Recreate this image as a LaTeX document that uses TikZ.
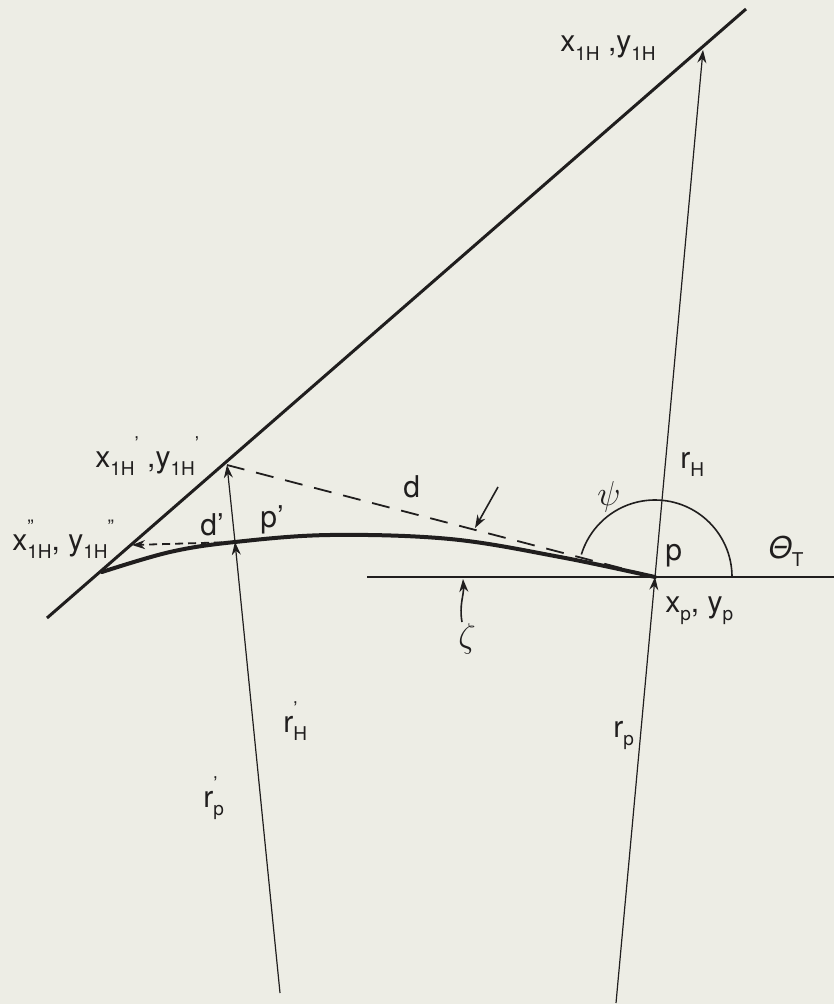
\documentclass[tikz,border=0pt]{standalone}
\usepackage{fontspec}
\setmainfont{TeX Gyre Heros}
\usetikzlibrary{arrows.meta}
\definecolor{bg}{RGB}{237,237,229}
\definecolor{ink}{RGB}{32,30,30}
\newcommand{\dn}[1]{\raisebox{-0.55ex}{\fontsize{9.5}{10}\selectfont #1}}
\newcommand{\up}[1]{\raisebox{1.05ex}{\fontsize{9.5}{10}\selectfont #1}}
\begin{document}
\begin{tikzpicture}[x=0.5pt,y=-0.5pt,
  lbl/.style={inner sep=0pt,anchor=base west,text=ink,font=\fontsize{15}{17}\selectfont},
  greek/.style={inner sep=0pt,anchor=center,text=ink,font=\fontsize{19}{21}\selectfont},
  thinline/.style={draw=ink,line width=0.6pt},
  thickline/.style={draw=ink,line width=1.5pt},
  tip/.style={-{Stealth[length=6.5pt,width=4.5pt]}},
  dashd/.style={draw=ink,line width=0.9pt,dash pattern=on 9pt off 6pt},
  dashs/.style={draw=ink,line width=0.9pt,dash pattern=on 4pt off 2.5pt}]
\fill[bg] (0,0) rectangle (834,1004);
\useasboundingbox (0,0) rectangle (834,1004);
% key points
\coordinate (D0) at (47,618);
\coordinate (D1) at (746,9);
\coordinate (X1H) at (703,50);
\coordinate (X1Hp) at (227,465);
\coordinate (X1Hpp) at (132,545);
\coordinate (P) at (655,577);
\coordinate (Pp) at (235,542);
\coordinate (RPb) at (616,1003);
\coordinate (RPpb) at (280,993);
\coordinate (H0) at (367,577);
\coordinate (H1) at (834,577);
\coordinate (Da) at (498,487);
\coordinate (Db) at (475,528);
\coordinate (Za) at (462,622);
\coordinate (Zb) at (463,579);
% diagonal line
\draw[thickline] (D0) -- (D1);
% horizontal line
\draw[thinline,line width=1pt] (H0) -- (H1);
% r_p and r_H
\draw[thinline,tip] (RPb) -- (P);
\draw[thinline,tip] (P) -- (X1H);
% r'_p and r'_H
\draw[thinline,tip] (RPpb) -- (Pp);
\draw[thinline,tip] (Pp) -- (X1Hp);
% curve
\draw[ink,line width=2pt,line cap=round] plot[smooth,tension=0.6] coordinates
  {(102,572) (170,552) (235,542) (330,535) (450,539) (560,557) (655,577)};
% dashed d and d'
\draw[dashd] (X1Hp) -- (P);
\draw[dashs,tip] (Pp) -- (X1Hpp);
% psi arc
\draw[thinline,line width=0.8pt] (P) ++(77,0) arc[start angle=0,end angle=-163,radius=77];
% pointer arrows
\draw[thinline,line width=0.8pt,tip] (Da) -- (Db);
\draw[thinline,line width=0.8pt,tip] (Za) .. controls (459,605) and (464,595) .. (Zb);
% labels
\node[lbl] (lx1h) at (560,52) {x\dn{1H} ,y\dn{1H}};
\node[lbl] (lx1hp) at (95,467) {x\dn{1H}\up{'} ,y\dn{1H}\up{'}};
\node[lbl] (lx1hpp) at (12,550) {x\rlap{\up{''}}\dn{1H}, y\dn{1H}\up{''}};
\node[lbl] (ld) at (403,497) {d};
\node[lbl] (ldp) at (200,535) {d'};
\node[lbl] (lpp) at (260,527) {p'};
\node[greek] (lpsi) at (609,497) {$\psi$};
\node[lbl] (lrh) at (680,468) {r\dn{H}};
\node[lbl] (lp) at (665,560) {p};
\node[lbl] (ltheta) at (768,558) {{\itshape Θ}\dn{T}};
\node[lbl] (lxp) at (665,612) {x\dn{p}, y\dn{p}};
\node[greek] (lzeta) at (467,639) {$\zeta$};
\node[lbl] (lrhp) at (283,732) {r\rlap{\up{'}}\dn{H}};
\node[lbl] (lrpp) at (203,807) {r\rlap{\up{'}}\dn{p}};
\node[lbl] (lrp) at (613,737) {r\dn{p}};
\end{tikzpicture}
\end{document}
